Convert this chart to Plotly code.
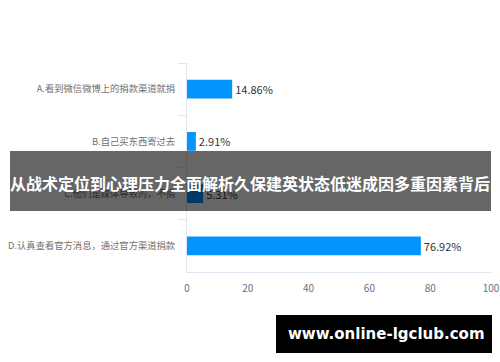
import plotly.graph_objects as go

categories = [
    "A.看到微信微博上的捐款渠道就捐",
    "B.自己买东西寄过去",
    "C.他们是媒体导致的，不捐",
    "D.认真查看官方消息，通过官方渠道捐款",
]
values = [14.86, 2.91, 5.31, 76.92]
value_labels = ["14.86%", "2.91%", "5.31%", "76.92%"]
x_ticks = [0, 20, 40, 60, 80, 100]

title_text = "从战术定位到心理压力全面解析久保建英状态低迷成因多重因素背后"
watermark_text = "www.online-lgclub.com"

W, H = 500, 362
L, R, T, B = 187, 491, 63, 272  # plot area in pixels

def px_x(p):
    return (p - L) / (R - L)

def px_y(p):
    return (B - p) / (B - T)

FONT = "Noto Sans CJK SC"
AXIS_COLOR = "#e0e6f1"

fig = go.Figure(
    go.Bar(
        x=values,
        y=categories,
        orientation="h",
        marker=dict(color="#0395fc", line=dict(width=0)),
        width=0.36,
        text=value_labels,
        textposition="outside",
        textfont=dict(family=FONT, size=11, color="#333333"),
        cliponaxis=False,
    )
)

fig.update_layout(
    width=W,
    height=H,
    margin=dict(l=L, r=W - R, t=T, b=H - B, pad=0, autoexpand=False),
    paper_bgcolor="white",
    plot_bgcolor="white",
    showlegend=False,
    font=dict(family=FONT),
    bargap=0.6,
)

fig.update_xaxes(
    range=[0, 100],
    tickvals=x_ticks,
    showgrid=False,
    zeroline=False,
    showline=True,
    linecolor=AXIS_COLOR,
    linewidth=1,
    ticks="",
    ticklabelstandoff=7,
    tickfont=dict(family=FONT, size=10, color="#6e7079"),
    automargin=False,
    fixedrange=True,
)

fig.update_yaxes(
    type="category",
    categoryorder="array",
    categoryarray=categories,
    autorange="reversed",
    showgrid=False,
    zeroline=False,
    showline=True,
    linecolor=AXIS_COLOR,
    linewidth=1,
    ticks="outside",
    tickson="boundaries",
    ticklen=8,
    tickcolor=AXIS_COLOR,
    ticklabelstandoff=9,
    tickfont=dict(family=FONT, size=9.3, color="#707070"),
    automargin=False,
)

# dark translucent banner with title
fig.add_shape(
    type="rect", xref="paper", yref="paper", layer="above",
    x0=px_x(10), x1=px_x(491), y0=px_y(211), y1=px_y(151),
    fillcolor="rgba(0,0,0,0.6)", line=dict(width=0),
)
fig.add_annotation(
    xref="paper", yref="paper", x=px_x(250), y=px_y(183),
    text="<b>" + title_text + "</b>", showarrow=False,
    font=dict(family=FONT, size=16, color="white"),
    xanchor="center", yanchor="middle",
)

# black watermark box
fig.add_shape(
    type="rect", xref="paper", yref="paper", layer="above",
    x0=px_x(276), x1=px_x(492), y0=px_y(353), y1=px_y(315),
    fillcolor="black", line=dict(width=0),
)
fig.add_annotation(
    xref="paper", yref="paper", x=px_x(386), y=px_y(334),
    text="<b>" + watermark_text + "</b>", showarrow=False,
    font=dict(family="DejaVu Sans", size=15, color="white"),
    xanchor="center", yanchor="middle",
)

fig.write_html("out.html")
